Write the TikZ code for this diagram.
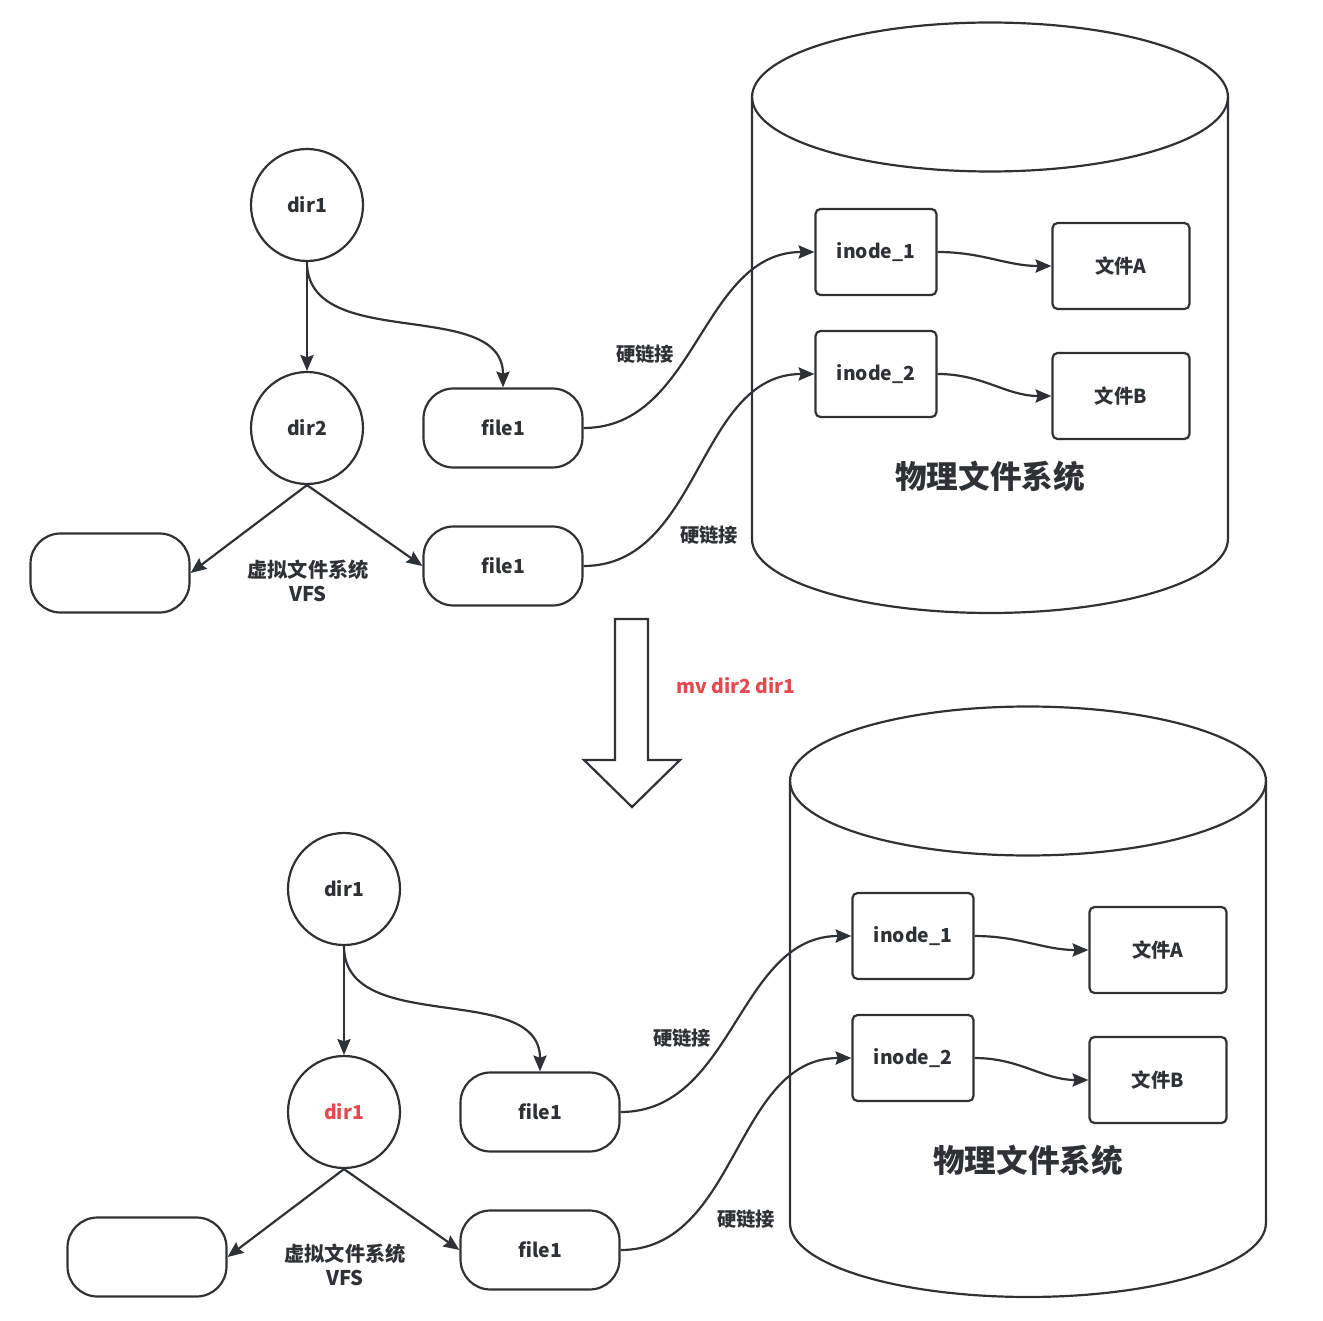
\documentclass[tikz,border=0pt]{standalone}
\usepackage{fontspec}
\setmainfont{Noto Sans CJK SC}
\usetikzlibrary{arrows.meta}

\definecolor{ink}{HTML}{2F3234}
\definecolor{mvred}{HTML}{E5484D}

\tikzset{
    every node/.style={text=ink, font=\bfseries\fontsize{11}{13}\selectfont},
    dirnode/.style={draw=ink, circle, line width=1.25pt, minimum size=2.24cm},
    filenode/.style={draw=ink, rounded corners=0.6cm, line width=1.25pt, minimum width=3.18cm, minimum height=1.58cm},
    inodebox/.style={draw=ink, rounded corners=0.1cm, line width=1.25pt, minimum width=2.42cm, minimum height=1.72cm},
    databox/.style={draw=ink, rounded corners=0.1cm, line width=1.25pt, minimum width=2.74cm, minimum height=1.72cm},
    lnk/.style={draw=ink, line width=1.25pt, -{Stealth[length=9pt,width=7.5pt,inset=1.2pt]}},
    cyl/.style={draw=ink, line width=1.25pt},
    title/.style={font=\bfseries\fontsize{18}{20}\selectfont}
}

\begin{document}
\begin{tikzpicture}[x=0.02cm, y=-0.02cm]
            \useasboundingbox (0,0) rectangle (1323,1321);

            % before: virtual file system
            \node[dirnode] (dir1) at (307,205) {dir1};
            \node[dirnode] (dir2) at (307,428) {dir2};
            \node[filenode] (file1) at (503,428) {file1};
            \node[filenode] (file2) at (503,566) {file1};
            \node[filenode] (blank) at (110,573) {};
            \node[align=center, font=\bfseries\fontsize{11.5}{14}\selectfont] (vfs) at (308,581) {虚拟文件系统\\VFS};

            % before: physical file system
            \draw[cyl] (752,97) -- (752,539) arc[start angle=180, end angle=360, x radius=4.76cm, y radius=1.48cm] -- (1228,97);
            \draw[cyl] (990,97) ellipse[x radius=4.76cm, y radius=1.49cm];
            \node[inodebox] (ino1) at (876,252) {inode\_1};
            \node[inodebox] (ino2) at (876,374) {inode\_2};
            \node[databox] (datA) at (1121,266) {文件A};
            \node[databox] (datB) at (1121,396) {文件B};
            \node[title] (phys) at (990,476) {物理文件系统};

            \draw[lnk] (dir1) -- (dir2);
            \draw[lnk] (dir1.south) to[out=-90, in=90] (file1.north);
            \draw[lnk] (dir2.south) -- (blank.east);
            \draw[lnk] (dir2.south) -- (file2.west);
            \draw[lnk] (file1.east) to[out=0, in=180] (ino1.west);
            \draw[lnk] (file2.east) to[out=0, in=180] (ino2.west);
            \draw[lnk] (ino1.east) to[out=0, in=180] (datA.west);
            \draw[lnk] (ino2.east) to[out=0, in=180] (datB.west);
            \node (hl1) at (645,354) {硬链接};
            \node (hl2) at (709,535) {硬链接};

            % the command
            \draw[cyl] (615,619) -- (648,619) -- (648,760) -- (680,760) -- (632,807) -- (584,760) -- (615,760) -- cycle;
            \node[text=mvred] (mv) at (736,686) {mv dir2 dir1};

            % after: virtual file system
            \node[dirnode] (ndir1) at (344,889) {dir1};
            \node[dirnode, text=mvred] (ndir2) at (344,1112) {dir1};
            \node[filenode] (nfile1) at (540,1112) {file1};
            \node[filenode] (nfile2) at (540,1250) {file1};
            \node[filenode] (nblank) at (147,1257) {};
            \node[align=center, font=\bfseries\fontsize{11.5}{14}\selectfont] (nvfs) at (345,1265) {虚拟文件系统\\VFS};

            % after: physical file system
            \draw[cyl] (790,781) -- (790,1223) arc[start angle=180, end angle=360, x radius=4.76cm, y radius=1.48cm] -- (1266,781);
            \draw[cyl] (1028,781) ellipse[x radius=4.76cm, y radius=1.49cm];
            \node[inodebox] (nino1) at (913,936) {inode\_1};
            \node[inodebox] (nino2) at (913,1058) {inode\_2};
            \node[databox] (ndatA) at (1158,950) {文件A};
            \node[databox] (ndatB) at (1158,1080) {文件B};
            \node[title] (nphys) at (1028,1160) {物理文件系统};

            \draw[lnk] (ndir1) -- (ndir2);
            \draw[lnk] (ndir1.south) to[out=-90, in=90] (nfile1.north);
            \draw[lnk] (ndir2.south) -- (nblank.east);
            \draw[lnk] (ndir2.south) -- (nfile2.west);
            \draw[lnk] (nfile1.east) to[out=0, in=180] (nino1.west);
            \draw[lnk] (nfile2.east) to[out=0, in=180] (nino2.west);
            \draw[lnk] (nino1.east) to[out=0, in=180] (ndatA.west);
            \draw[lnk] (nino2.east) to[out=0, in=180] (ndatB.west);
            \node (nhl1) at (682,1038) {硬链接};
            \node (nhl2) at (746,1219) {硬链接};

        \end{tikzpicture}
\end{document}
